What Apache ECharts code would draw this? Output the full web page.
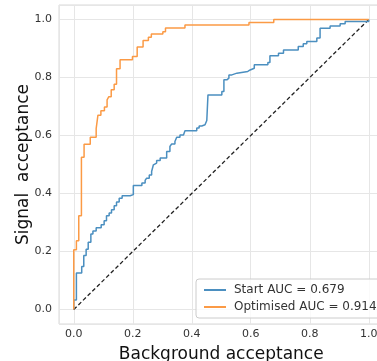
<!DOCTYPE html>
<html>
<head>
<meta charset="utf-8">
<script src="https://cdn.jsdelivr.net/npm/echarts@6/dist/echarts.min.js"></script>
<style>
html, body { margin: 0; padding: 0; background: #fff; }
#chart { width: 377px; height: 361px; }
</style>
</head>
<body>
<div id="chart"></div>
<script>
// ROC curves, points where each step rises (fpr, tpr after rise)
const startFpr = [0, 0.009, 0.027, 0.034, 0.042, 0.049, 0.058, 0.065, 0.076, 0.093, 0.103, 0.111, 0.120, 0.128, 0.137, 0.145, 0.154, 0.164, 0.191, 0.202, 0.231, 0.242, 0.247, 0.256, 0.264, 0.270, 0.276, 0.281, 0.293, 0.315, 0.326, 0.332, 0.343, 0.349, 0.360, 0.372, 0.377, 0.417, 0.425, 0.434, 0.445, 0.451, 0.455, 0.502, 0.509, 0.519, 0.526, 0.536, 0.553, 0.590, 0.598, 0.612, 0.658, 0.665, 0.694, 0.711, 0.761, 0.778, 0.790, 0.824, 0.835, 0.869, 0.903, 0.920, 1.0]
const startTpr = [0.033, 0.126, 0.148, 0.186, 0.208, 0.232, 0.260, 0.271, 0.282, 0.292, 0.306, 0.323, 0.333, 0.344, 0.358, 0.371, 0.384, 0.392, 0.396, 0.428, 0.436, 0.445, 0.453, 0.464, 0.476, 0.499, 0.505, 0.514, 0.522, 0.545, 0.562, 0.571, 0.579, 0.594, 0.602, 0.608, 0.616, 0.626, 0.633, 0.637, 0.643, 0.652, 0.740, 0.752, 0.792, 0.798, 0.809, 0.815, 0.821, 0.826, 0.832, 0.844, 0.852, 0.875, 0.884, 0.895, 0.907, 0.916, 0.924, 0.936, 0.970, 0.978, 0.985, 0.993, 1.0]
const optFpr = [0, 0.009, 0.017, 0.026, 0.035, 0.056, 0.076, 0.082, 0.092, 0.104, 0.113, 0.119, 0.127, 0.137, 0.145, 0.157, 0.199, 0.215, 0.235, 0.253, 0.263, 0.302, 0.311, 0.377, 0.594, 0.678, 1.0]
const optTpr = [0.206, 0.237, 0.323, 0.525, 0.570, 0.594, 0.624, 0.670, 0.685, 0.698, 0.723, 0.734, 0.758, 0.777, 0.830, 0.861, 0.872, 0.905, 0.928, 0.939, 0.950, 0.958, 0.971, 0.981, 0.990, 1.0, 1.0]
const seriesNames = ['Start AUC = 0.679', 'Optimised AUC = 0.914']
const tickValues = [0, 0.2, 0.4, 0.6, 0.8, 1.0]

const font = 'DejaVu Sans'

function toPoints(xs, ys) {
    const pts = [[0, 0]]
    xs.forEach((x, i) => pts.push([x, ys[i]]))
    return pts
}

let myChart = echarts.init(document.getElementById('chart'))
let option = {
    animation: false,
    backgroundColor: '#fff',
    textStyle: { fontFamily: font },
    grid: {
        left: 59,
        top: 5,
        width: 324.5,
        height: 319,
        outerBoundsMode: 'none',
        containLabel: false,
        show: true,
        borderColor: '#d8d8d8',
        borderWidth: 1
    },
    legend: {
        data: seriesNames,
        orient: 'vertical',
        left: 196,
        top: 279,
        itemWidth: 22,
        itemHeight: 2,
        itemGap: 5,
        padding: [5, 8, 5, 8],
        borderColor: '#cccccc',
        borderWidth: 1,
        borderRadius: 3,
        backgroundColor: 'rgba(255,255,255,0.8)',
        textStyle: { fontSize: 12, color: '#333', fontFamily: font, padding: [0, 0, 0, 3] },
        icon: 'rect'
    },
    xAxis: {
        type: 'value',
        min: -0.05,
        max: 1.05,
        name: 'Background acceptance',
        nameLocation: 'middle',
        nameGap: 22,
        nameMoveOverlap: false,
        nameTextStyle: { fontSize: 17, color: '#111', fontFamily: font },
        axisLine: { show: false },
        axisTick: { show: false },
        axisLabel: {
            customValues: tickValues,
            formatter: v => v.toFixed(1),
            fontSize: 11, color: '#333', margin: 5, fontFamily: font
        },
        splitLine: { show: true, lineStyle: { color: '#e6e6e6', width: 1 } }
    },
    yAxis: {
        type: 'value',
        min: -0.05,
        max: 1.05,
        name: 'Signal  acceptance',
        nameLocation: 'middle',
        nameGap: 27,
        nameMoveOverlap: false,
        nameTextStyle: { fontSize: 17, color: '#111', fontFamily: font },
        axisLine: { show: false },
        axisTick: { show: false },
        axisLabel: {
            customValues: tickValues,
            formatter: v => v.toFixed(1),
            fontSize: 11, color: '#333', margin: 7, fontFamily: font
        },
        splitLine: { show: true, lineStyle: { color: '#e6e6e6', width: 1 } }
    },
    series: [
        {
            name: seriesNames[0],
            type: 'line',
            step: 'end',
            showSymbol: false,
            data: toPoints(startFpr, startTpr),
            itemStyle: { color: '#4b8fc0' },
            lineStyle: { color: '#4b8fc0', width: 1.5 },
            z: 3
        },
        {
            name: seriesNames[1],
            type: 'line',
            step: 'end',
            showSymbol: false,
            data: toPoints(optFpr, optTpr),
            itemStyle: { color: '#fb9a45' },
            lineStyle: { color: '#fb9a45', width: 1.5 },
            z: 3
        },
        {
            name: 'diagonal',
            type: 'line',
            showSymbol: false,
            data: [[0, 0], [1, 1]],
            lineStyle: { color: '#222', width: 1.3, type: [4, 2.5] },
            z: 2
        }
    ]
}
myChart.setOption(option)
window.addEventListener('resize', function(){
    myChart.resize()
})
</script>
</body>
</html>
